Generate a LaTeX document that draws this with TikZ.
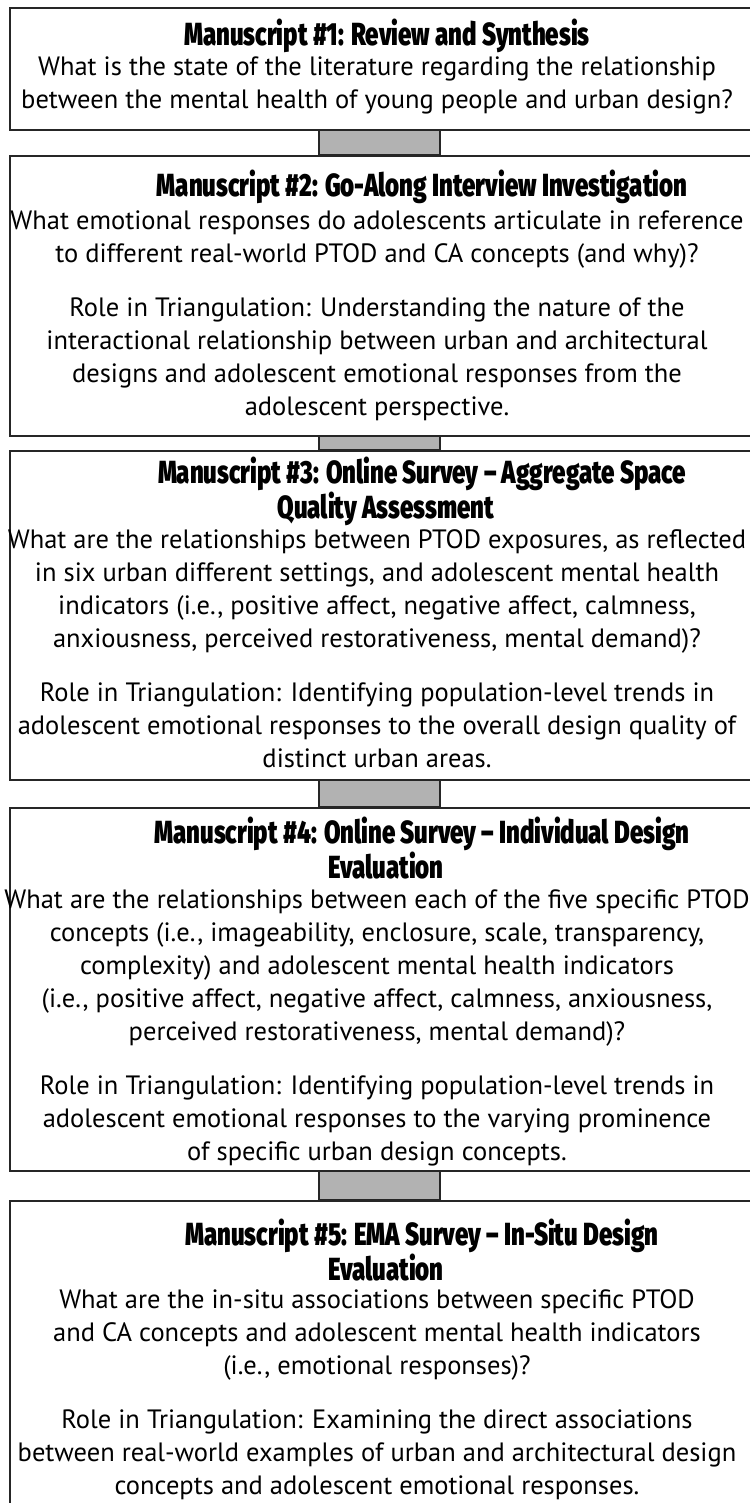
\documentclass[tikz,border=0pt]{standalone}
\usepackage{fontspec}
\setmainfont{PT Sans}
\newfontfamily\headfont[FakeStretch=0.75]{Fira Sans Black}
\usetikzlibrary{calc, positioning}

\begin{document}
\begin{tikzpicture}[x=1pt, y=-1pt,
  panel/.style={draw=black!85, line width=1.6pt, fill=white, anchor=north west, minimum width=800pt, inner sep=0pt},
  head/.style={anchor=north, align=center, inner sep=0pt, font=\headfont\fontsize{32}{32}\selectfont},
  body/.style={anchor=north, align=center, inner sep=0pt, font=\fontsize{26.5}{33}\selectfont},
  link/.style={draw=black!85, line width=1.6pt, fill=black!30}]
\useasboundingbox (0,0) rectangle (749,1503);

% the five manuscript panels
\node[panel, minimum height=122pt] (ms1) at (9,7) {};
\node[panel, minimum height=280pt] (ms2) at (9,155) {};
\node[panel, minimum height=329pt] (ms3) at (9,450) {};
\node[panel, minimum height=363pt] (ms4) at (9,807) {};
\node[panel, minimum height=330pt] (ms5) at (9,1200) {};

% grey links between panels
\foreach \a/\b in {ms1/ms2, ms2/ms3, ms3/ms4, ms4/ms5}
  \draw[link] ($(\a.south west)+(310,0)$) rectangle ($(\b.north west)+(431,0)$);

\node[head] (h1) at (387,19) {Manuscript \#1: Review and Synthesis};
\node[body] (q1) at (377,57) {What is the state of the literature regarding the relationship\\
  between the mental health of young people and urban design?};

\node[head] (h2) at (422,170) {Manuscript \#2: Go-Along Interview Investigation};
\node[body] (q2) at (377,211) {What emotional responses do adolescents articulate in reference\\
  to different real-world PTOD and CA concepts (and why)?\\[21pt]
  Role in Triangulation: Understanding the nature of the\\
  interactional relationship between urban and architectural\\
  designs and adolescent emotional responses from the\\
  adolescent perspective.};

\node[head] (h3) at (422,457) {Manuscript \#3: Online Survey – Aggregate Space\\
  Quality Assessment\hspace*{72pt}};
\node[body] (q3) at (377,529) {What are the relationships between PTOD exposures, as reflected\\
  in six urban different settings, and adolescent mental health\\
  indicators (i.e., positive affect, negative affect, calmness,\\
  anxiousness, perceived restorativeness, mental demand)?\\[21pt]
  Role in Triangulation: Identifying population-level trends in\\
  adolescent emotional responses to the overall design quality of\\
  distinct urban areas.};

\node[head] (h4) at (422,817) {Manuscript \#4: Online Survey – Individual Design\\
  Evaluation\hspace*{72pt}};
\node[body] (q4) at (377,889) {What are the relationships between each of the five specific PTOD\\
  concepts (i.e., imageability, enclosure, scale, transparency,\\
  complexity) and adolescent mental health indicators\\
  (i.e., positive affect, negative affect, calmness, anxiousness,\\
  perceived restorativeness, mental demand)?\\[21pt]
  Role in Triangulation: Identifying population-level trends in\\
  adolescent emotional responses to the varying prominence\\
  of specific urban design concepts.};

\node[head] (h5) at (422,1219) {Manuscript \#5: EMA Survey – In-Situ Design\\
  Evaluation\hspace*{72pt}};
\node[body] (q5) at (377,1289) {What are the in-situ associations between specific PTOD\\
  and CA concepts and adolescent mental health indicators\\
  (i.e., emotional responses)?\\[21pt]
  Role in Triangulation: Examining the direct associations\\
  between real-world examples of urban and architectural design\\
  concepts and adolescent emotional responses.};
\end{tikzpicture}
\end{document}
